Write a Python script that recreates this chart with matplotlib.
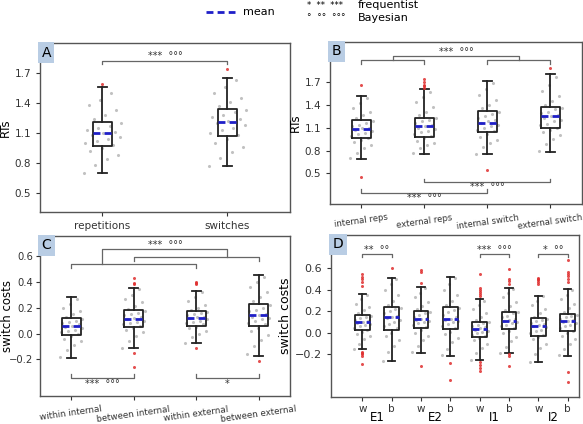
import numpy as np
import matplotlib.pyplot as plt
from matplotlib.lines import Line2D

# ---- data ----
# panel A
a_labels = ['repetitions', 'switches']
a_stats = [  # whislo, q1, q3, whishi, mean
    [0.70, 0.97, 1.21, 1.56, 1.10],
    [0.77, 1.07, 1.34, 1.65, 1.21],
]
a_fliers = [[1.59], [1.74]]
a_points = [
    [0.70, 0.78, 0.84, 0.88, 0.92, 0.95, 0.98, 1.00, 1.02, 1.04, 1.06, 1.08,
     1.10, 1.11, 1.13, 1.15, 1.17, 1.20, 1.24, 1.28, 1.33, 1.38, 1.43, 1.50],
    [0.77, 0.85, 0.91, 0.96, 1.00, 1.04, 1.08, 1.10, 1.13, 1.15, 1.18, 1.20,
     1.22, 1.24, 1.26, 1.28, 1.31, 1.33, 1.37, 1.41, 1.45, 1.50, 1.56, 1.63],
]

# panel B
b_labels = ['internal reps', 'external reps', 'internal switch', 'external switch']
b_stats = [
    [0.69, 0.96, 1.20, 1.51, 1.08],
    [0.76, 0.98, 1.23, 1.60, 1.12],
    [0.75, 1.04, 1.32, 1.71, 1.16],
    [0.78, 1.09, 1.37, 1.80, 1.25],
]
b_fliers = [[1.66, 0.45], [1.62, 1.64, 1.66, 1.70, 1.73], [0.54], [1.88]]
b_points = [
    [0.70, 0.77, 0.83, 0.87, 0.91, 0.94, 0.97, 0.99, 1.01, 1.03, 1.05, 1.07,
     1.09, 1.10, 1.12, 1.14, 1.16, 1.19, 1.23, 1.27, 1.31, 1.36, 1.42, 1.49],
    [0.77, 0.83, 0.87, 0.90, 0.93, 0.96, 0.99, 1.01, 1.04, 1.06, 1.08, 1.10,
     1.12, 1.14, 1.16, 1.18, 1.20, 1.22, 1.26, 1.31, 1.37, 1.43, 1.50, 1.57],
    [0.76, 0.84, 0.90, 0.94, 0.98, 1.01, 1.05, 1.07, 1.10, 1.12, 1.14, 1.16,
     1.18, 1.20, 1.23, 1.25, 1.28, 1.31, 1.35, 1.40, 1.46, 1.52, 1.60, 1.69],
    [0.79, 0.88, 0.95, 1.00, 1.04, 1.07, 1.10, 1.13, 1.15, 1.18, 1.20, 1.23,
     1.25, 1.27, 1.29, 1.31, 1.34, 1.36, 1.40, 1.45, 1.51, 1.58, 1.66, 1.76],
]

# panel C
c_labels = ['within internal', 'between internal', 'within external', 'between external']
c_stats = [
    [-0.19, -0.01, 0.12, 0.28, 0.058],
    [-0.11, 0.05, 0.18, 0.35, 0.114],
    [-0.07, 0.06, 0.17, 0.33, 0.119],
    [-0.17, 0.06, 0.23, 0.45, 0.142],
]
c_fliers = [[], [0.43, 0.39, 0.38, -0.15, -0.26], [0.40, 0.39, 0.38, -0.11], [-0.21]]
c_points = [
    [-0.18, -0.13, -0.09, -0.06, -0.04, -0.02, 0.00, 0.01, 0.02, 0.03, 0.04, 0.05,
     0.06, 0.07, 0.08, 0.09, 0.10, 0.11, 0.13, 0.15, 0.17, 0.20, 0.23, 0.27],
    [-0.11, -0.06, -0.02, 0.01, 0.03, 0.04, 0.06, 0.07, 0.08, 0.09, 0.10, 0.11,
     0.12, 0.13, 0.14, 0.15, 0.16, 0.17, 0.19, 0.21, 0.24, 0.27, 0.30, 0.34],
    [-0.07, -0.03, 0.00, 0.02, 0.04, 0.05, 0.07, 0.08, 0.09, 0.10, 0.11, 0.12,
     0.125, 0.13, 0.14, 0.15, 0.16, 0.165, 0.18, 0.20, 0.22, 0.25, 0.28, 0.32],
    [-0.16, -0.10, -0.05, -0.01, 0.02, 0.04, 0.07, 0.08, 0.10, 0.11, 0.12, 0.13,
     0.14, 0.15, 0.17, 0.18, 0.20, 0.22, 0.25, 0.28, 0.32, 0.36, 0.40, 0.44],
]

# panel D
d_ticklabels = ['w', 'b', 'w', 'b', 'w', 'b', 'w', 'b']
d_groups = ['E1', 'E2', 'I1', 'I2']
d_stats = [
    [-0.15, 0.024, 0.17, 0.36, 0.10],
    [-0.265, 0.03, 0.24, 0.51, 0.148],
    [-0.185, 0.046, 0.20, 0.43, 0.13],
    [-0.216, 0.033, 0.236, 0.516, 0.127],
    [-0.25, -0.035, 0.105, 0.31, 0.036],
    [-0.19, 0.036, 0.195, 0.42, 0.11],
    [-0.27, -0.026, 0.133, 0.34, 0.065],
    [-0.216, 0.015, 0.177, 0.407, 0.108],
]
d_fliers = [
    [0.55, 0.52, 0.50, 0.47, 0.44, -0.18, -0.19, -0.20, -0.22, -0.29],
    [0.60],
    [0.58, 0.57, 0.465, -0.31],
    [-0.28, -0.44],
    [0.55, 0.42, 0.40, 0.38, 0.36, 0.34, -0.27, -0.30, -0.33, -0.36],
    [0.59, 0.50, 0.48, 0.45, -0.20, -0.22, -0.31],
    [0.51, 0.50, 0.49, 0.47, 0.45],
    [0.68, 0.57, 0.55, 0.53, 0.50, 0.47, -0.365, -0.455],
]
d_points = [
    [-0.15, -0.10, -0.06, -0.03, -0.01, 0.01, 0.03, 0.04, 0.06, 0.07, 0.08, 0.09,
     0.10, 0.11, 0.12, 0.14, 0.15, 0.16, 0.18, 0.21, 0.24, 0.27, 0.31, 0.35],
    [-0.26, -0.18, -0.12, -0.07, -0.03, 0.00, 0.04, 0.06, 0.08, 0.10, 0.12, 0.14,
     0.15, 0.16, 0.18, 0.20, 0.22, 0.23, 0.26, 0.30, 0.35, 0.40, 0.45, 0.50],
    [-0.18, -0.12, -0.07, -0.03, 0.00, 0.03, 0.05, 0.07, 0.09, 0.10, 0.11, 0.12,
     0.13, 0.14, 0.15, 0.17, 0.18, 0.19, 0.22, 0.25, 0.29, 0.33, 0.37, 0.42],
    [-0.21, -0.15, -0.09, -0.05, -0.01, 0.01, 0.04, 0.06, 0.08, 0.10, 0.11, 0.12,
     0.13, 0.15, 0.17, 0.19, 0.21, 0.23, 0.26, 0.30, 0.35, 0.40, 0.45, 0.51],
    [-0.25, -0.19, -0.14, -0.10, -0.07, -0.05, -0.03, -0.02, 0.00, 0.01, 0.02, 0.03,
     0.04, 0.05, 0.06, 0.07, 0.09, 0.10, 0.12, 0.15, 0.18, 0.22, 0.26, 0.30],
    [-0.19, -0.13, -0.08, -0.04, 0.00, 0.02, 0.04, 0.06, 0.07, 0.09, 0.10, 0.11,
     0.12, 0.13, 0.15, 0.16, 0.18, 0.19, 0.21, 0.25, 0.29, 0.33, 0.37, 0.41],
    [-0.27, -0.20, -0.14, -0.10, -0.06, -0.04, -0.02, 0.00, 0.02, 0.03, 0.05, 0.06,
     0.07, 0.08, 0.09, 0.11, 0.12, 0.13, 0.15, 0.18, 0.22, 0.26, 0.30, 0.34],
    [-0.21, -0.15, -0.10, -0.06, -0.03, 0.00, 0.02, 0.04, 0.06, 0.07, 0.09, 0.10,
     0.11, 0.12, 0.13, 0.15, 0.16, 0.17, 0.19, 0.23, 0.27, 0.31, 0.35, 0.40],
]

MEAN_C = '#1f1fc8'
SPINE_C = '#555555'
BRACKET_C = '#666666'


def draw_boxes(ax, stats, fliers, points, positions, width, spread):
    # jittered raw points
    for p, vals in zip(positions, points):
        n = len(vals)
        off = np.array([((i * 7) % n) / (n - 1) * 2 - 1 for i in range(n)]) * spread
        ax.scatter(p + off, vals, s=5, color='#999999', alpha=0.6,
                   linewidths=0, zorder=1)
    bx = []
    for st, fl in zip(stats, fliers):
        lo, q1, q3, hi, mn = st
        bx.append(dict(whislo=lo, q1=q1, med=mn, q3=q3, whishi=hi,
                       mean=mn, fliers=fl))
    ax.bxp(bx, positions=positions, widths=width, showmeans=True,
           meanline=True, manage_ticks=False,
           boxprops=dict(color='#222222', lw=1.3),
           whiskerprops=dict(color='#222222', lw=1.3),
           capprops=dict(color='#222222', lw=1.3),
           medianprops=dict(lw=0),
           meanprops=dict(color=MEAN_C, ls=(0, (2.5, 1.5)), lw=2.0),
           flierprops=dict(marker='o', markersize=2.2, markerfacecolor='#e03030',
                           markeredgecolor='none', alpha=0.85))


def bracket(ax, x1, x2, y, h, text=None, ty=None, fs=7):
    ax.plot([x1, x1, x2, x2], [y - h, y, y, y - h], color=BRACKET_C, lw=0.9,
            zorder=3)
    if text:
        ax.text((x1 + x2) / 2, ty, text, ha='center', va='center',
                fontsize=fs, color='#333333')


def panel_label(ax, s):
    ax.text(0.006, 0.985, s, transform=ax.transAxes, ha='left', va='top',
            fontsize=10, bbox=dict(facecolor='#b9cde4', edgecolor='none',
                                   pad=2.5))


def style(ax):
    for sp in ax.spines.values():
        sp.set_color(SPINE_C)
        sp.set_linewidth(1.0)
    ax.tick_params(colors='#333333', length=3, width=0.8)


fig = plt.figure(figsize=(5.83, 4.24), dpi=100)

# ---- A ----
axA = fig.add_axes([0.0686, 0.50, 0.4288, 0.3986])
draw_boxes(axA, a_stats, a_fliers, a_points, [1, 2], 0.15, 0.15)
axA.set_xlim(0.5, 2.5)
axA.set_ylim(0.31, 2.0)
axA.set_yticks([0.5, 0.8, 1.1, 1.4, 1.7])
axA.set_xticks([1, 2])
axA.set_xticklabels(a_labels, fontsize=7.5)
axA.tick_params(axis='y', labelsize=7.5)
axA.set_ylabel('RTs', fontsize=8.5, labelpad=2)
bracket(axA, 1, 2, 1.82, 0.035, '***  °°°', 1.87)
panel_label(axA, 'A')
style(axA)

# ---- B ----
axB = fig.add_axes([0.566, 0.5189, 0.4322, 0.382])
draw_boxes(axB, b_stats, b_fliers, b_points, [1, 2, 3, 4], 0.3, 0.18)
axB.set_xlim(0.5, 4.5)
axB.set_ylim(0.1, 2.22)
axB.set_yticks([0.5, 0.8, 1.1, 1.4, 1.7])
axB.set_xticks([1, 2, 3, 4])
axB.set_xticklabels(b_labels, fontsize=6.1, rotation=8)
axB.tick_params(axis='y', labelsize=7.5)
axB.set_ylabel('RTs', fontsize=8.5, labelpad=2)
bracket(axB, 1, 2, 1.98, 0.05)
bracket(axB, 3, 4, 1.98, 0.05)
bracket(axB, 1.5, 3.5, 2.04, 0.06, '***  °°°', 2.09)
bracket(axB, 2, 4, 0.39, -0.035, '***  °°°', 0.32)
bracket(axB, 1, 3, 0.25, -0.04, '***  °°°', 0.18)
panel_label(axB, 'B')
style(axB)

# ---- C ----
axC = fig.add_axes([0.0686, 0.0667, 0.4288, 0.3774])
draw_boxes(axC, c_stats, c_fliers, c_points, [1, 2, 3, 4], 0.3, 0.18)
axC.set_xlim(0.5, 4.5)
axC.set_ylim(-0.48, 0.755)
axC.set_yticks([-0.2, 0.0, 0.2, 0.4, 0.6])
axC.set_yticklabels(['\u22120.2', '0.0', '0.2', '0.4', '0.6'])
axC.set_xticks([1, 2, 3, 4])
axC.set_xticklabels(c_labels, fontsize=6.3, rotation=8)
axC.tick_params(axis='y', labelsize=7.2, pad=2)
fig.text(8 / 583, 1 - 315.7 / 424, 'switch costs', rotation=90,
         ha='center', va='center', fontsize=8.5)
bracket(axC, 1, 3, 0.536, 0.028)
bracket(axC, 2, 4, 0.588, 0.03)
axC.plot([1.5, 1.5, 3.5, 3.5], [0.536, 0.652, 0.652, 0.588],
         color=BRACKET_C, lw=0.9, zorder=3)
axC.text(2.5, 0.685, '***  °°°', ha='center', va='center', fontsize=7,
         color='#333333')
bracket(axC, 1, 2, -0.34, -0.028, '***  °°°', -0.39)
bracket(axC, 3, 4, -0.34, -0.028, '*', -0.39)
panel_label(axC, 'C')
style(axC)

# ---- D ----
axD = fig.add_axes([0.5683, 0.0630, 0.4244, 0.3828])
d_pos = list(range(1, 9))
draw_boxes(axD, d_stats, d_fliers, d_points, d_pos, 0.5, 0.3)
axD.set_xlim(-0.06, 8.375)
axD.set_ylim(-0.6, 0.91)
axD.set_yticks([-0.2, 0.0, 0.2, 0.4, 0.6])
axD.set_yticklabels(['\u22120.2', '0.0', '0.2', '0.4', '0.6'])
axD.set_xticks(d_pos)
axD.set_xticklabels(d_ticklabels, fontsize=7.5)
axD.tick_params(axis='y', labelsize=8)
axD.tick_params(axis='x', pad=2)
axD.set_ylabel('switch costs', fontsize=9, labelpad=2)
for k, g in enumerate(d_groups):
    axD.text(2 * k + 1.5, -0.125, g, transform=axD.get_xaxis_transform(),
             ha='center', va='center', fontsize=8.5)
bracket(axD, 1, 2, 0.737, 0.032, '**  °°', 0.77)
bracket(axD, 5, 6, 0.737, 0.032, '***  °°°', 0.77)
bracket(axD, 7, 8, 0.737, 0.032, '*  °°', 0.77)
panel_label(axD, 'D')
style(axD)

# ---- legend on top ----
fig.add_artist(Line2D([206 / 583, 235 / 583], [1 - 12 / 424, 1 - 12 / 424],
                      color=MEAN_C, ls=(0, (2.5, 1.5)), lw=2.0))
fig.text(243 / 583, 1 - 12 / 424, 'mean', fontsize=8, va='center', ha='left')
fig.text(307 / 583, 1 - 6 / 424, '*  **  ***', fontsize=6, va='center', ha='left')
fig.text(358 / 583, 1 - 5 / 424, 'frequentist', fontsize=8, va='center', ha='left')
fig.text(307 / 583, 1 - 18 / 424, '°  °°  °°°', fontsize=6.5, va='center', ha='left')
fig.text(358 / 583, 1 - 18 / 424, 'Bayesian', fontsize=8, va='center', ha='left')

fig.savefig('out.png', dpi=100)
